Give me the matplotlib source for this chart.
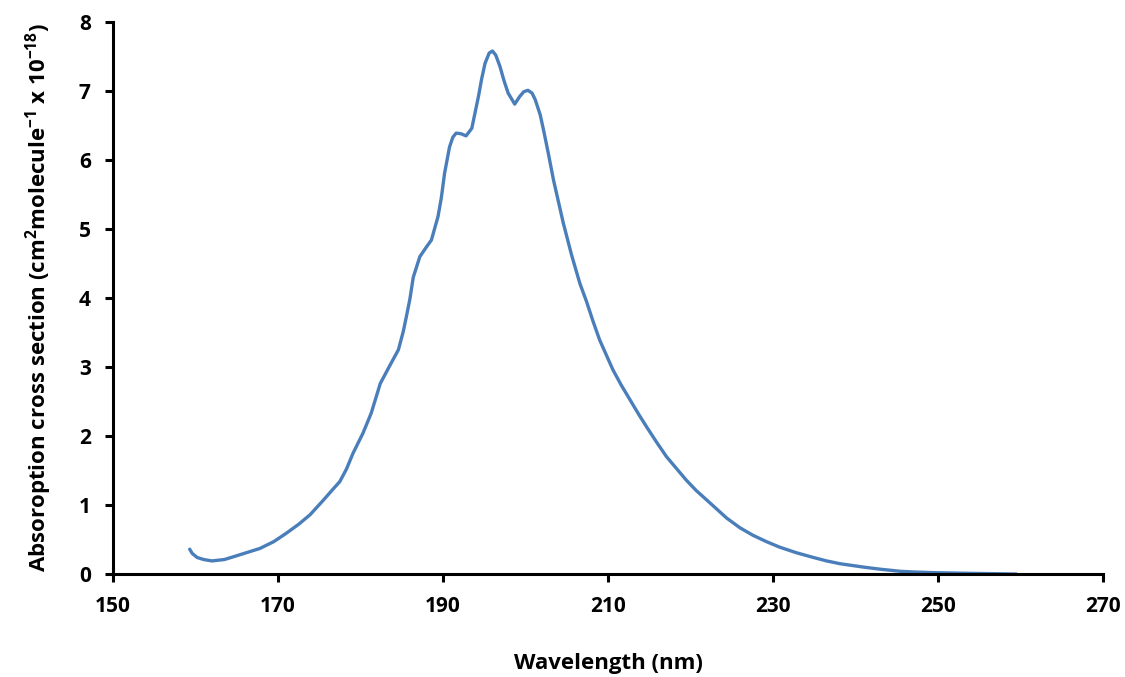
import matplotlib
matplotlib.use("Agg")
import matplotlib.pyplot as plt

# absorption spectrum
wavelength = [159.3, 159.6, 160.2, 161.0, 162.0, 163.5, 164.6, 166.2, 167.8, 169.5,
              171.0, 172.5, 173.9, 175.5, 176.6, 177.5, 178.3, 179.1, 180.3, 181.3,
              182.4, 183.6, 184.6, 185.2, 185.6, 186.0, 186.4, 187.2, 188.0, 188.6,
              189.4, 189.8, 190.2, 190.8, 191.2, 191.6, 192.2, 192.8, 193.5, 194.3,
              194.7, 195.1, 195.6, 196.0, 196.4, 196.9, 197.4, 197.9, 198.7, 199.3,
              199.8, 200.3, 200.8, 201.2, 201.8, 202.2, 202.8, 203.4, 204.6, 205.6,
              206.6, 207.4, 208.2, 209.0, 210.6, 211.6, 212.7, 213.7, 214.7, 215.9,
              217.1, 218.3, 219.5, 220.7, 222.0, 223.2, 224.4, 226.0, 227.6, 229.2,
              230.8, 232.8, 234.9, 236.5, 238.1, 241.0, 243.0, 245.4, 247.0, 249.4,
              254.0, 259.5]
cross_section = [0.36, 0.30, 0.24, 0.21, 0.19, 0.21, 0.25, 0.31, 0.37, 0.47,
                 0.59, 0.72, 0.86, 1.07, 1.22, 1.34, 1.52, 1.75, 2.04, 2.33,
                 2.76, 3.03, 3.25, 3.52, 3.75, 3.99, 4.30, 4.60, 4.74, 4.84,
                 5.18, 5.45, 5.81, 6.19, 6.33, 6.39, 6.38, 6.35, 6.46, 6.92,
                 7.18, 7.40, 7.55, 7.58, 7.52, 7.36, 7.15, 6.97, 6.81, 6.92,
                 6.99, 7.01, 6.97, 6.87, 6.65, 6.43, 6.08, 5.71, 5.08, 4.62,
                 4.21, 3.95, 3.66, 3.39, 2.96, 2.74, 2.52, 2.32, 2.13, 1.91,
                 1.70, 1.53, 1.36, 1.21, 1.07, 0.94, 0.81, 0.67, 0.56, 0.47,
                 0.39, 0.31, 0.24, 0.19, 0.15, 0.10, 0.07, 0.04, 0.03, 0.02,
                 0.01, 0.0]
x_ticks = [150, 170, 190, 210, 230, 250, 270]
y_ticks = [0, 1, 2, 3, 4, 5, 6, 7, 8]

plt.rcParams['font.family'] = ['Open Sans', 'DejaVu Sans']
plt.rcParams['font.weight'] = 'bold'
plt.rcParams['mathtext.fontset'] = 'custom'
plt.rcParams['mathtext.rm'] = 'Open Sans:bold'
plt.rcParams['mathtext.default'] = 'rm'

fig = plt.figure(figsize=(11.25, 6.77), dpi=100)
ax = fig.add_axes([0.1004, 0.1521, 0.88, 0.8154])

ax.plot(wavelength, cross_section, color='#4A7EBB', linewidth=2.4,
        solid_capstyle='round', solid_joinstyle='round')

ax.set_xlim(150, 270)
ax.set_ylim(0, 8)
ax.set_xticks(x_ticks)
ax.set_yticks(y_ticks)
ax.tick_params(labelsize=15, width=2.2, length=6, direction='out', pad=10)
for lbl in ax.get_xticklabels() + ax.get_yticklabels():
    lbl.set_fontweight('bold')

for side in ['top', 'right']:
    ax.spines[side].set_visible(False)
for side in ['left', 'bottom']:
    ax.spines[side].set_linewidth(2.2)

ax.set_xlabel('Wavelength (nm)', fontsize=16, fontweight='bold', labelpad=26)
ax.set_ylabel(r'Absoroption cross section (cm$^{2}$molecule$^{-1}$ x 10$^{-18}$)',
              fontsize=16, fontweight='bold', labelpad=18)

fig.savefig('out.png', dpi=100)
